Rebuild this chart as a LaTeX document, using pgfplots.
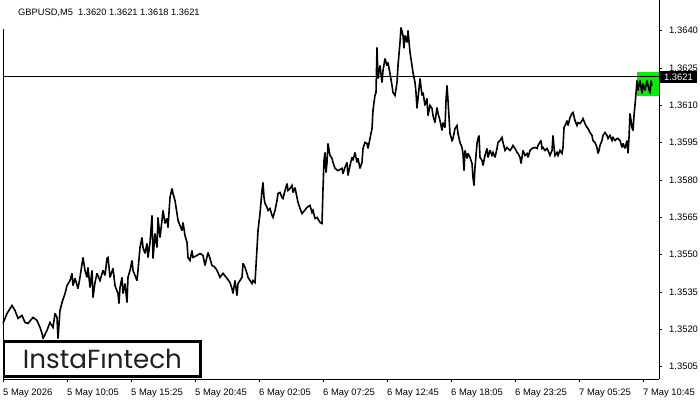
\documentclass[border=0pt]{standalone}
\usepackage{pgfplots}
\pgfplotsset{compat=1.18}
\usepackage{graphicx}
\usepackage{fontspec}
\setmainfont{Liberation Sans}
\newfontfamily\logofont{Poppins}
\definecolor{lastbox}{RGB}{0,240,0}

% GBPUSD M5, x = bar index (5 min per bar), y = price
\pgfplotstableread{
i p
0 1.35223
4 1.35263
9 1.35295
12 1.35275
15 1.35243
19 1.35255
22 1.35227
25 1.35223
30 1.35247
34 1.35235
37 1.35207
39 1.35183
40 1.35162
44 1.35195
47 1.35227
50 1.35207
52 1.35263
54 1.35247
55 1.35162
57 1.35275
59 1.35307
62 1.35343
64 1.35375
67 1.35395
69 1.35424
70 1.35375
72 1.35404
75 1.35363
77 1.35408
80 1.35488
82 1.35436
84 1.35408
85 1.35448
87 1.35367
89 1.35436
90 1.35327
92 1.35387
94 1.35424
97 1.35395
100 1.35436
102 1.35416
104 1.35484
105 1.35488
107 1.35408
110 1.35444
112 1.35375
115 1.35343
116 1.35303
117 1.35367
119 1.35408
120 1.35343
122 1.35383
124 1.35307
125 1.35408
127 1.35436
129 1.35476
130 1.35436
134 1.35395
135 1.35436
137 1.35528
139 1.35568
140 1.35528
142 1.35504
144 1.35544
145 1.35488
147 1.35548
149 1.35657
150 1.35484
152 1.35584
154 1.35528
155 1.35649
157 1.35568
159 1.35637
160 1.35677
162 1.35625
164 1.35645
165 1.35608
167 1.35729
169 1.35765
170 1.35745
172 1.35717
174 1.35665
175 1.35637
177 1.35616
179 1.35596
180 1.35629
182 1.35576
184 1.35548
185 1.35488
187 1.35476
189 1.35516
190 1.35488
194 1.35496
197 1.35504
200 1.35496
202 1.35456
205 1.35508
207 1.35484
209 1.35456
211 1.35452
212 1.35448
214 1.35436
217 1.35408
220 1.35424
224 1.35404
227 1.35387
229 1.35363
230 1.35343
232 1.35395
234 1.35335
235 1.35383
239 1.35408
240 1.35464
242 1.35448
244 1.35424
245 1.35408
249 1.35383
250 1.35395
252 1.35387
254 1.35524
255 1.35596
257 1.35665
259 1.35757
260 1.35789
261 1.35729
262 1.35705
264 1.35689
265 1.35677
267 1.35685
269 1.35657
270 1.35649
272 1.35677
274 1.35717
275 1.35745
277 1.35749
279 1.35729
280 1.35725
282 1.35757
284 1.35785
285 1.35757
287 1.35765
289 1.35777
290 1.35749
292 1.35769
294 1.35729
295 1.35709
297 1.35685
299 1.35665
300 1.35669
304 1.35689
307 1.35697
309 1.35669
310 1.35677
312 1.35645
314 1.35649
317 1.35629
319 1.35625
320 1.35765
321 1.35878
322 1.35910
323 1.35829
324 1.35870
325 1.35946
327 1.35898
329 1.35886
330 1.35870
332 1.35846
335 1.35837
339 1.35846
340 1.35825
342 1.35850
344 1.35870
345 1.35817
347 1.35858
349 1.35890
350 1.35878
352 1.35910
354 1.35870
355 1.35886
357 1.35846
359 1.35870
360 1.35926
362 1.35950
364 1.35946
365 1.35926
367 1.35966
369 1.36006
370 1.36079
371 1.36111
372 1.36139
373 1.36151
374 1.36332
375 1.36207
377 1.36259
379 1.36191
380 1.36239
382 1.36287
384 1.36259
385 1.36271
387 1.36227
389 1.36179
390 1.36151
392 1.36139
394 1.36191
395 1.36259
397 1.36352
398 1.36412
400 1.36380
401 1.36328
402 1.36380
404 1.36352
405 1.36400
407 1.36312
409 1.36259
410 1.36231
412 1.36191
413 1.36151
414 1.36087
415 1.36127
417 1.36207
419 1.36139
420 1.36151
422 1.36099
424 1.36127
425 1.36058
427 1.36099
429 1.36087
430 1.36058
432 1.36030
434 1.36091
435 1.36067
437 1.36038
439 1.35998
440 1.36030
442 1.36010
443 1.36119
444 1.36179
445 1.36119
447 1.35986
449 1.35958
450 1.35966
452 1.36006
454 1.36018
455 1.35986
457 1.35950
459 1.35930
460 1.35906
461 1.35837
462 1.35918
464 1.35886
465 1.35906
467 1.35890
469 1.35866
470 1.35809
471 1.35777
472 1.35850
474 1.35946
475 1.35966
476 1.35978
477 1.35890
479 1.35878
480 1.35858
482 1.35898
484 1.35926
485 1.35890
487 1.35918
489 1.35898
490 1.35910
492 1.35890
494 1.35926
495 1.35950
497 1.35958
499 1.35970
500 1.35950
502 1.35918
504 1.35930
505 1.35926
507 1.35918
509 1.35930
510 1.35938
512 1.35926
514 1.35910
515 1.35906
517 1.35890
518 1.35866
519 1.35890
520 1.35918
522 1.35898
524 1.35906
525 1.35890
527 1.35918
529 1.35926
532 1.35930
534 1.35926
535 1.35938
538 1.35958
539 1.35926
540 1.35930
542 1.35918
544 1.35926
545 1.35918
547 1.35898
549 1.35918
550 1.35978
551 1.35930
552 1.35898
554 1.35910
555 1.35898
557 1.35918
559 1.35906
560 1.35930
561 1.36010
563 1.36026
564 1.36038
565 1.36018
567 1.36050
569 1.36067
570 1.36071
572 1.36038
574 1.36018
575 1.36030
577 1.36026
579 1.36038
580 1.36046
582 1.36026
584 1.36010
585 1.36006
587 1.35990
589 1.35978
590 1.35958
592 1.35950
594 1.35930
595 1.35906
596 1.35918
597 1.35938
599 1.35958
600 1.35978
602 1.35990
604 1.35978
605 1.35966
607 1.35978
609 1.35958
610 1.35970
612 1.35958
614 1.35966
615 1.35966
617 1.35958
619 1.35930
620 1.35946
622 1.35926
624 1.35958
625 1.35906
626 1.35970
627 1.36067
629 1.36010
630 1.35998
631 1.36058
633 1.36147
634 1.36199
635 1.36159
637 1.36199
639 1.36147
640 1.36187
642 1.36159
644 1.36199
645 1.36179
647 1.36147
648 1.36199
649 1.36179
}\gbpusd

\begin{document}
\begin{tikzpicture}[x=1pt,y=1pt]
\path (0,0) rectangle (700,400);
\begin{axis}[
  at={(3pt,21pt)}, anchor=south west,
  scale only axis, width=656pt, height=379pt,
  xmin=0, xmax=656, ymin=1.34998, ymax=1.36521,
  axis x line*=bottom, axis y line*=right,
  axis line style={-, black, line width=0.8pt},
  tick align=outside, major tick length=3pt,
  tick style={black, line width=0.6pt},
  xtick={0,64,...,640},
  xticklabels={5 May 2026,5 May 10:05,5 May 15:25,5 May 20:45,6 May 02:05,6 May 07:25,6 May 12:45,6 May 18:05,6 May 23:25,7 May 05:25,7 May 10:45},
  xticklabel style={anchor=north west, inner sep=0pt, yshift=-6pt},
  ytick={1.3505,1.3520,1.3535,1.3550,1.3565,1.3580,1.3595,1.3610,1.3625,1.3640},
  yticklabels={1.3505,1.3520,1.3535,1.3550,1.3565,1.3580,1.3595,1.3610,1.3625,1.3640},
  yticklabel style={anchor=west, inner sep=0pt, xshift=7pt},
  tick label style={font=\fontsize{9.4}{11}\selectfont},
  clip=false,
]
\fill[lastbox] (axis cs:634,1.36135) rectangle (axis cs:656,1.36235);
\addplot[black, line width=1.6pt, line join=miter, miter limit=3] table[x=i, y=p] {\gbpusd};
\draw[black, line width=0.8pt] (axis cs:0,1.36215) -- (axis cs:656,1.36215);
\end{axis}
% left frame edge below the title
\draw[black, line width=0.8pt] (3,21) -- (3,371);
% last price label
\fill[black] (660,317) rectangle (697,329);
\node[text=white, inner sep=0pt, font=\fontsize{9.4}{11}\selectfont] at (678.5,323) {1.3621};
% title
\node[anchor=base west, inner sep=0pt, font=\fontsize{9.3}{11}\selectfont] at (18,385) {GBPUSD,M5\ \ 1.3620 1.3621 1.3618 1.3621};
% logo
\draw[black, line width=2.7pt, fill=white] (4,58.7) rectangle (200.3,24);
\node[inner sep=0pt, text=black!88] at (102.5,41.5) {\resizebox{159pt}{!}{\logofont InstaFıntech}};
\end{tikzpicture}
\end{document}
